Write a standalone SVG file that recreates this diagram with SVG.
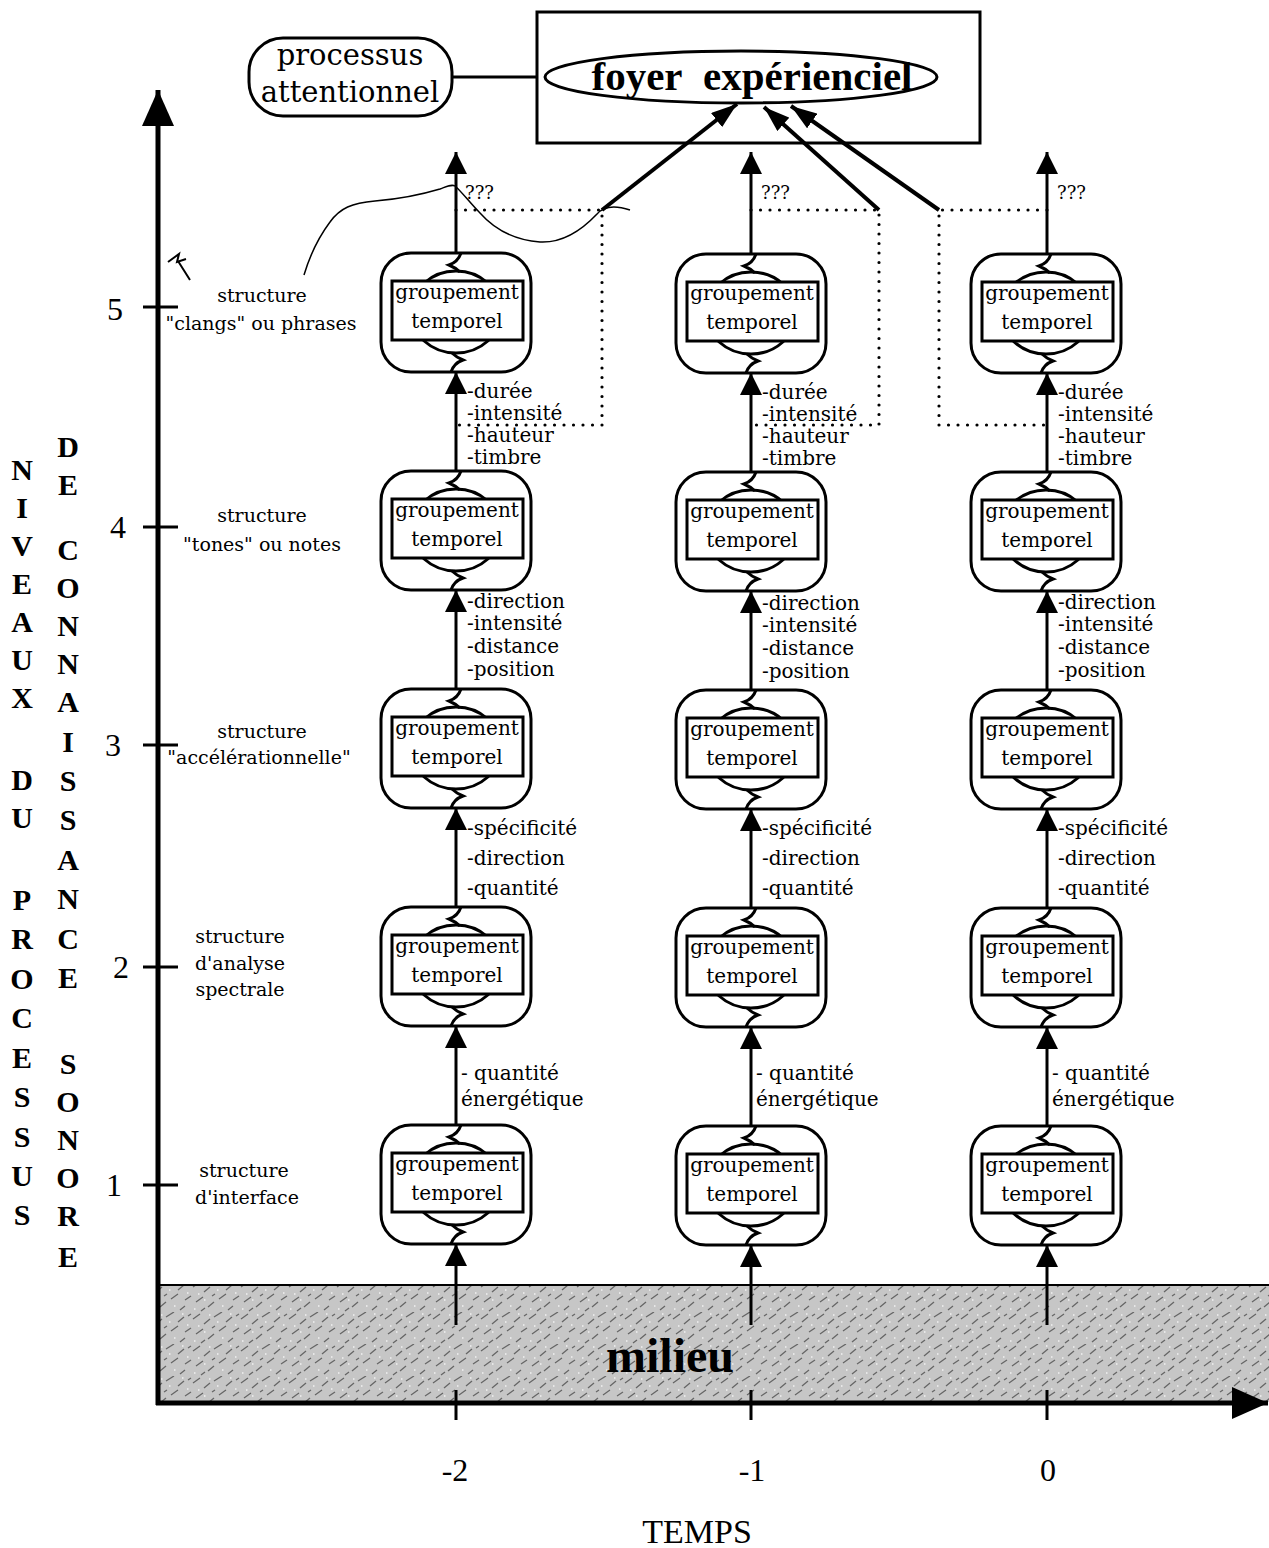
<svg xmlns="http://www.w3.org/2000/svg" width="1269" height="1548" viewBox="0 0 1269 1548">
<defs>
<style>
.t{font-family:"DejaVu Serif","Liberation Serif",serif;font-size:20px;fill:#000}
.c{text-anchor:middle}
.s{font-family:"DejaVu Serif","Liberation Serif",serif;font-size:19px;fill:#000}
.q{font-family:"DejaVu Serif",serif;font-size:18px}
.vb{font-family:"Liberation Serif",serif;font-weight:bold;font-size:30px;text-anchor:middle}
.num{font-family:"Liberation Serif",serif;font-size:32px;text-anchor:middle}
.ln{stroke:#000;stroke-width:3;fill:none}
.ax{stroke:#000;stroke-width:5;fill:none}
.dot{stroke:#000;stroke-width:3.2;fill:none;stroke-dasharray:0 9.5;stroke-linecap:round}
</style>
<marker id="ah" viewBox="0 0 22 22" refX="22" refY="11" markerWidth="22" markerHeight="22" markerUnits="userSpaceOnUse" orient="auto"><path d="M0,0 L22,11 L0,22 z"/></marker>
<marker id="ahd" viewBox="0 0 26 18" refX="26" refY="9" markerWidth="26" markerHeight="18" markerUnits="userSpaceOnUse" orient="auto"><path d="M0,0 L26,9 L0,18 z"/></marker>
<marker id="axh" viewBox="0 0 36 32" refX="36" refY="16" markerWidth="36" markerHeight="32" markerUnits="userSpaceOnUse" orient="auto"><path d="M0,0 L36,16 L0,32 z"/></marker>
<pattern id="noise" width="48" height="32" patternUnits="userSpaceOnUse">
<rect width="48" height="32" fill="#c6c6c6"/>
<path d="M1,7 l7,-5 M12,12 l6,-5 M22,5 l8,-5 M34,10 l6,-5 M41,20 l6,-4 M4,22 l7,-5 M16,27 l6,-5 M27,19 l7,-5 M36,30 l5,-4 M9,31 l4,-3 M20,16 l3,-2 M44,4 l3,-2" stroke="#666" stroke-width="1.3"/>
<path d="M6,14 h1.5 M30,26 h1.5 M17,3 h1.5 M43,13 h1.5 M2,29 h1.5 M25,10 h1.5 M38,2 h1.5 M12,20 h1.5" stroke="#f2f2f2" stroke-width="1.6"/>
</pattern>
<g id="nodeShape">
<rect x="-75" y="0" width="150" height="119" rx="30" fill="#fff" stroke="#000" stroke-width="3"/>
<ellipse cx="0" cy="59" rx="45" ry="41" fill="none" stroke="#000" stroke-width="3"/>
<path d="M5,0 Q2,9 -7,12 Q0,15 4,19" fill="none" stroke="#000" stroke-width="3"/>
<path d="M-5,119 Q-2,110 7,107 Q0,104 -4,100" fill="none" stroke="#000" stroke-width="3"/>
<rect x="-64" y="28" width="131" height="59" fill="#fff" stroke="#000" stroke-width="3"/>
</g>
</defs>
<rect width="1269" height="1548" fill="#fff"/>

<!-- milieu band -->
<g id="milieu">
<rect x="160" y="1286" width="1109" height="116" fill="url(#noise)"/>
<line x1="158" y1="1285" x2="1269" y2="1285" stroke="#000" stroke-width="2"/>
<text x="670" y="1372" font-family="Liberation Serif,serif" font-weight="bold" font-size="48" text-anchor="middle">milieu</text>
</g>

<!-- axes -->
<g id="axes">
<line class="ax" x1="158" y1="1405" x2="158" y2="90" marker-end="url(#axh)"/>
<line class="ax" x1="156" y1="1403" x2="1268" y2="1403" marker-end="url(#axh)"/>
<path class="ln" d="M143,307 H178 M143,527 H178 M143,745 H178 M143,967 H178 M143,1185 H178"/>
<path class="ln" d="M456,1390 V1420 M751,1390 V1420 M1047,1390 V1420"/>
<text class="num" x="115" y="320">5</text>
<text class="num" x="118" y="538">4</text>
<text class="num" x="113" y="756">3</text>
<text class="num" x="121" y="978">2</text>
<text class="num" x="114" y="1196">1</text>
<text class="num" x="455" y="1481">-2</text>
<text class="num" x="752" y="1481">-1</text>
<text class="num" x="1048" y="1481">0</text>
<text x="697" y="1543" font-family="Liberation Serif,serif" font-size="34" text-anchor="middle">TEMPS</text>
</g>

<!-- vertical axis title -->
<g id="axis-title">
<text class="vb" x="22" y="480">N</text>
<text class="vb" x="22" y="518">I</text>
<text class="vb" x="22" y="556">V</text>
<text class="vb" x="22" y="594">E</text>
<text class="vb" x="22" y="632">A</text>
<text class="vb" x="22" y="670">U</text>
<text class="vb" x="22" y="708">X</text>
<text class="vb" x="22" y="790">D</text>
<text class="vb" x="22" y="828">U</text>
<text class="vb" x="22" y="910">P</text>
<text class="vb" x="22" y="949">R</text>
<text class="vb" x="22" y="989">O</text>
<text class="vb" x="22" y="1028">C</text>
<text class="vb" x="22" y="1068">E</text>
<text class="vb" x="22" y="1107">S</text>
<text class="vb" x="22" y="1147">S</text>
<text class="vb" x="22" y="1186">U</text>
<text class="vb" x="22" y="1225">S</text>
<text class="vb" x="68" y="457">D</text>
<text class="vb" x="68" y="495">E</text>
<text class="vb" x="68" y="560">C</text>
<text class="vb" x="68" y="598">O</text>
<text class="vb" x="68" y="636">N</text>
<text class="vb" x="68" y="674">N</text>
<text class="vb" x="68" y="712">A</text>
<text class="vb" x="68" y="752">I</text>
<text class="vb" x="68" y="791">S</text>
<text class="vb" x="68" y="830">S</text>
<text class="vb" x="68" y="870">A</text>
<text class="vb" x="68" y="909">N</text>
<text class="vb" x="68" y="949">C</text>
<text class="vb" x="68" y="988">E</text>
<text class="vb" x="68" y="1074">S</text>
<text class="vb" x="68" y="1112">O</text>
<text class="vb" x="68" y="1150">N</text>
<text class="vb" x="68" y="1188">O</text>
<text class="vb" x="68" y="1226">R</text>
<text class="vb" x="68" y="1267">E</text>
</g>

<!-- level labels -->
<g id="level-labels">
<text class="s c" x="262" y="302">structure</text>
<text class="s c" x="261" y="330">"clangs" ou phrases</text>
<text class="s c" x="262" y="522">structure</text>
<text class="s c" x="262" y="551">"tones" ou notes</text>
<text class="s c" x="262" y="738">structure</text>
<text class="s c" x="259" y="764">"accélérationnelle"</text>
<text class="s c" x="240" y="943">structure</text>
<text class="s c" x="240" y="970">d'analyse</text>
<text class="s c" x="240" y="996">spectrale</text>
<text class="s c" x="244" y="1177">structure</text>
<text class="s c" x="247" y="1204">d'interface</text>
</g>

<!-- top -->
<g id="processus">
<rect x="249" y="38" width="203" height="78" rx="34" fill="#fff" stroke="#000" stroke-width="3"/>
<text class="c" x="350" y="65" font-family="DejaVu Serif,serif" font-size="29">processus</text>
<text class="c" x="350" y="102" font-family="DejaVu Serif,serif" font-size="29">attentionnel</text>
</g>
<g id="foyer">
<rect x="537" y="12" width="443" height="131" fill="#fff" stroke="#000" stroke-width="3"/>
<ellipse cx="741" cy="77" rx="196" ry="26" fill="#fff" stroke="#000" stroke-width="3"/>
<text x="752" y="90" font-family="Liberation Serif,serif" font-weight="bold" font-size="41" text-anchor="middle">foyer&#160; expérienciel</text>
</g>

<!-- nodes -->
<g id="n-2-5" transform="translate(456,253)"><use href="#nodeShape"/><text class="t c" x="1" y="46">groupement</text><text class="t c" x="1" y="75">temporel</text></g>
<g id="n-2-4" transform="translate(456,471)"><use href="#nodeShape"/><text class="t c" x="1" y="46">groupement</text><text class="t c" x="1" y="75">temporel</text></g>
<g id="n-2-3" transform="translate(456,689)"><use href="#nodeShape"/><text class="t c" x="1" y="46">groupement</text><text class="t c" x="1" y="75">temporel</text></g>
<g id="n-2-2" transform="translate(456,907)"><use href="#nodeShape"/><text class="t c" x="1" y="46">groupement</text><text class="t c" x="1" y="75">temporel</text></g>
<g id="n-2-1" transform="translate(456,1125)"><use href="#nodeShape"/><text class="t c" x="1" y="46">groupement</text><text class="t c" x="1" y="75">temporel</text></g>
<g id="n-1-5" transform="translate(751,254)"><use href="#nodeShape"/><text class="t c" x="1" y="46">groupement</text><text class="t c" x="1" y="75">temporel</text></g>
<g id="n-1-4" transform="translate(751,472)"><use href="#nodeShape"/><text class="t c" x="1" y="46">groupement</text><text class="t c" x="1" y="75">temporel</text></g>
<g id="n-1-3" transform="translate(751,690)"><use href="#nodeShape"/><text class="t c" x="1" y="46">groupement</text><text class="t c" x="1" y="75">temporel</text></g>
<g id="n-1-2" transform="translate(751,908)"><use href="#nodeShape"/><text class="t c" x="1" y="46">groupement</text><text class="t c" x="1" y="75">temporel</text></g>
<g id="n-1-1" transform="translate(751,1126)"><use href="#nodeShape"/><text class="t c" x="1" y="46">groupement</text><text class="t c" x="1" y="75">temporel</text></g>
<g id="n0-5" transform="translate(1046,254)"><use href="#nodeShape"/><text class="t c" x="1" y="46">groupement</text><text class="t c" x="1" y="75">temporel</text></g>
<g id="n0-4" transform="translate(1046,472)"><use href="#nodeShape"/><text class="t c" x="1" y="46">groupement</text><text class="t c" x="1" y="75">temporel</text></g>
<g id="n0-3" transform="translate(1046,690)"><use href="#nodeShape"/><text class="t c" x="1" y="46">groupement</text><text class="t c" x="1" y="75">temporel</text></g>
<g id="n0-2" transform="translate(1046,908)"><use href="#nodeShape"/><text class="t c" x="1" y="46">groupement</text><text class="t c" x="1" y="75">temporel</text></g>
<g id="n0-1" transform="translate(1046,1126)"><use href="#nodeShape"/><text class="t c" x="1" y="46">groupement</text><text class="t c" x="1" y="75">temporel</text></g>

<!-- connectors -->
<g id="connectors">
<line class="ln" x1="452" y1="77" x2="537" y2="77"/>
<line class="ln" x1="456" y1="253" x2="456" y2="152" marker-end="url(#ah)"/>
<line class="ln" x1="456" y1="471" x2="456" y2="372" marker-end="url(#ah)"/>
<line class="ln" x1="456" y1="689" x2="456" y2="590" marker-end="url(#ah)"/>
<line class="ln" x1="456" y1="907" x2="456" y2="808" marker-end="url(#ah)"/>
<line class="ln" x1="456" y1="1125" x2="456" y2="1026" marker-end="url(#ah)"/>
<line class="ln" x1="456" y1="1325" x2="456" y2="1244" marker-end="url(#ah)"/>
<line class="ln" x1="751" y1="254" x2="751" y2="152" marker-end="url(#ah)"/>
<line class="ln" x1="751" y1="472" x2="751" y2="373" marker-end="url(#ah)"/>
<line class="ln" x1="751" y1="690" x2="751" y2="591" marker-end="url(#ah)"/>
<line class="ln" x1="751" y1="908" x2="751" y2="809" marker-end="url(#ah)"/>
<line class="ln" x1="751" y1="1126" x2="751" y2="1027" marker-end="url(#ah)"/>
<line class="ln" x1="751" y1="1325" x2="751" y2="1245" marker-end="url(#ah)"/>
<line class="ln" x1="1047" y1="254" x2="1047" y2="152" marker-end="url(#ah)"/>
<line class="ln" x1="1047" y1="472" x2="1047" y2="373" marker-end="url(#ah)"/>
<line class="ln" x1="1047" y1="690" x2="1047" y2="591" marker-end="url(#ah)"/>
<line class="ln" x1="1047" y1="908" x2="1047" y2="809" marker-end="url(#ah)"/>
<line class="ln" x1="1047" y1="1126" x2="1047" y2="1027" marker-end="url(#ah)"/>
<line class="ln" x1="1047" y1="1325" x2="1047" y2="1245" marker-end="url(#ah)"/>
<path class="dot" d="M456,210 H602 V425 H456"/>
<path class="dot" d="M751,210 H879 V425 H751"/>
<path class="dot" d="M1047,210 H939 V425 H1047"/>
<line x1="602" y1="210" x2="737" y2="104" stroke="#000" stroke-width="4" marker-end="url(#ahd)"/>
<line x1="879" y1="210" x2="764" y2="107" stroke="#000" stroke-width="4" marker-end="url(#ahd)"/>
<line x1="939" y1="210" x2="791" y2="106" stroke="#000" stroke-width="4" marker-end="url(#ahd)"/>
<path d="M304,275 C310,255 318,238 330,222 C340,208 352,203 375,201 C400,199 420,195 440,189 C448,186 452,184 455,186 C462,192 470,203 480,213 C495,230 515,240 540,242 C560,243 580,232 597,214 C603,207 612,204 630,210" fill="none" stroke="#000" stroke-width="1.5"/>
<path d="M168,262 L179,254 L177,262 L186,259 M178,261 L190,280" fill="none" stroke="#000" stroke-width="2"/>
</g>

<!-- connector labels -->
<g id="connector-labels">
<text class="q" x="465" y="199">???</text>
<text class="q" x="761" y="199">???</text>
<text class="q" x="1057" y="199">???</text>
<text class="t" x="467" y="398">-durée</text><text class="t" x="467" y="420">-intensité</text><text class="t" x="467" y="442">-hauteur</text><text class="t" x="467" y="464">-timbre</text>
<text class="t" x="762" y="399">-durée</text><text class="t" x="762" y="421">-intensité</text><text class="t" x="762" y="443">-hauteur</text><text class="t" x="762" y="465">-timbre</text>
<text class="t" x="1058" y="399">-durée</text><text class="t" x="1058" y="421">-intensité</text><text class="t" x="1058" y="443">-hauteur</text><text class="t" x="1058" y="465">-timbre</text>
<text class="t" x="467" y="608">-direction</text><text class="t" x="467" y="630">-intensité</text><text class="t" x="467" y="653">-distance</text><text class="t" x="467" y="676">-position</text>
<text class="t" x="762" y="610">-direction</text><text class="t" x="762" y="632">-intensité</text><text class="t" x="762" y="655">-distance</text><text class="t" x="762" y="678">-position</text>
<text class="t" x="1058" y="609">-direction</text><text class="t" x="1058" y="631">-intensité</text><text class="t" x="1058" y="654">-distance</text><text class="t" x="1058" y="677">-position</text>
<text class="t" x="467" y="835">-spécificité</text><text class="t" x="467" y="865">-direction</text><text class="t" x="467" y="895">-quantité</text>
<text class="t" x="762" y="835">-spécificité</text><text class="t" x="762" y="865">-direction</text><text class="t" x="762" y="895">-quantité</text>
<text class="t" x="1058" y="835">-spécificité</text><text class="t" x="1058" y="865">-direction</text><text class="t" x="1058" y="895">-quantité</text>
<text class="t" x="461" y="1080">- quantité</text><text class="t" x="461" y="1106">énergétique</text>
<text class="t" x="756" y="1080">- quantité</text><text class="t" x="756" y="1106">énergétique</text>
<text class="t" x="1052" y="1080">- quantité</text><text class="t" x="1052" y="1106">énergétique</text>
</g>
</svg>
